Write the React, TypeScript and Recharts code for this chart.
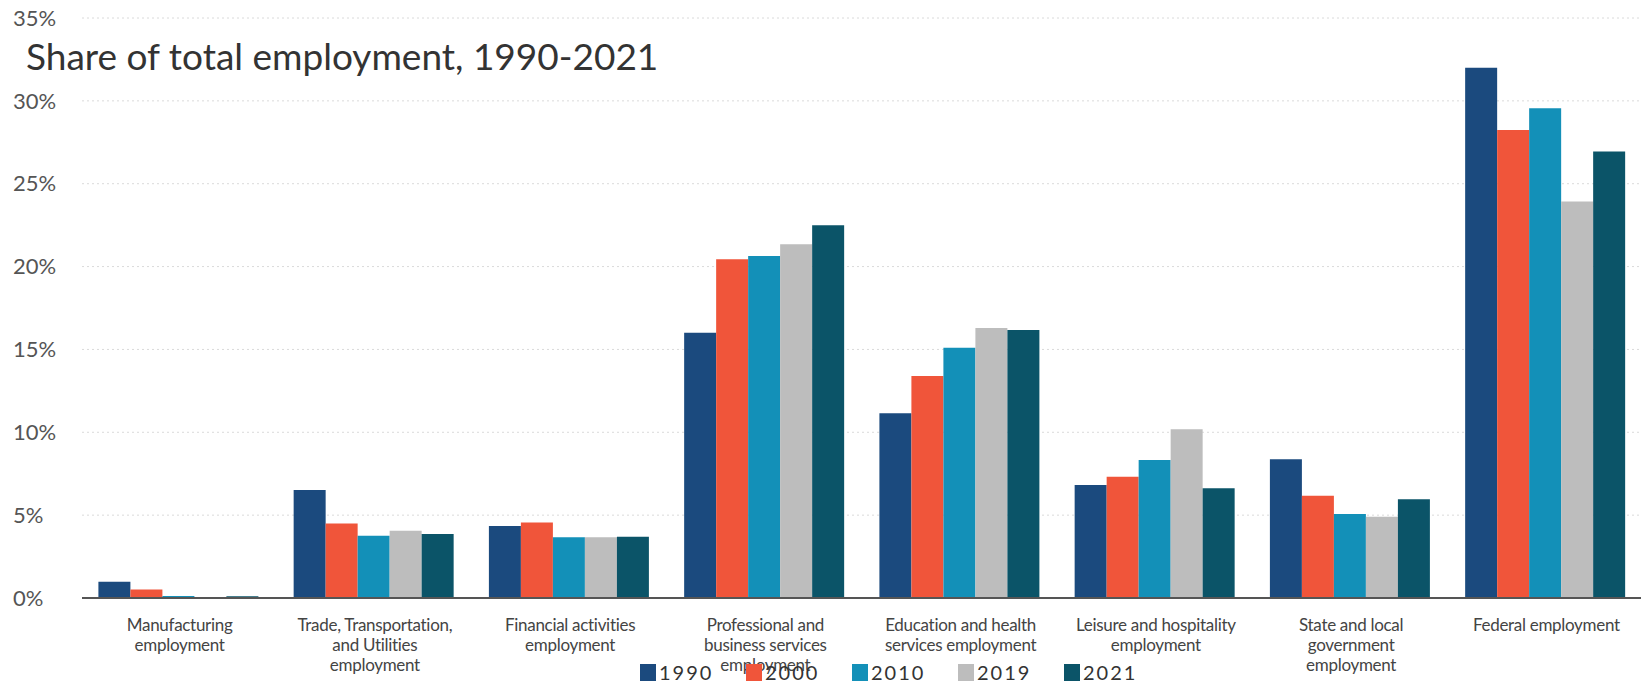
import React from 'react';
import { BarChart, Bar, XAxis, YAxis, CartesianGrid, Legend } from 'recharts';

const categories = [
  'Manufacturing employment',
  'Trade, Transportation, and Utilities employment',
  'Financial activities employment',
  'Professional and business services employment',
  'Education and health services employment',
  'Leisure and hospitality employment',
  'State and local government employment',
  'Federal employment',
];

const categoryLabelLines = [
  ['Manufacturing', 'employment'],
  ['Trade, Transportation,', 'and Utilities', 'employment'],
  ['Financial activities', 'employment'],
  ['Professional and', 'business services', 'employment'],
  ['Education and health', 'services employment'],
  ['Leisure and hospitality', 'employment'],
  ['State and local', 'government', 'employment'],
  ['Federal employment'],
];

const years = ['1990', '2000', '2010', '2019', '2021'];
const values1990 = [0.98, 6.52, 4.35, 16.0, 11.15, 6.82, 8.37, 32.0];
const values2000 = [0.52, 4.5, 4.55, 20.44, 13.4, 7.32, 6.17, 28.24];
const values2010 = [0.12, 3.76, 3.66, 20.64, 15.1, 8.33, 5.07, 29.55];
const values2019 = [0.05, 4.06, 3.66, 21.35, 16.3, 10.18, 4.9, 23.92];
const values2021 = [0.1, 3.86, 3.7, 22.5, 16.17, 6.62, 5.96, 26.94];
const seriesValues = [values1990, values2000, values2010, values2019, values2021];
const colors = ['#1b4a7e', '#f0553a', '#1390b8', '#bdbdbd', '#0b5468'];
const yTicks = [0, 5, 10, 15, 20, 25, 30, 35];

const titleText = 'Share of total employment, 1990-2021';

const data = categories.map((name, i) => {
  const row: Record<string, any> = { name, idx: i };
  years.forEach((y, k) => {
    row[y] = seriesValues[k][i];
  });
  return row;
});

const FONT = 'Lato, "Noto Sans", sans-serif';

const XTick = (props: any) => {
  const { x, y, index } = props;
  const lines = categoryLabelLines[index] || [];
  return (
    <g>
      {lines.map((line, i) => (
        <text
          key={i}
          x={x}
          y={y + 33 + i * 20}
          textAnchor="middle"
          fontFamily={FONT}
          fontSize={17}
          letterSpacing={-0.3}
          fill="#444"
        >
          {line}
        </text>
      ))}
    </g>
  );
};

const YTick = (props: any) => {
  const { y, payload } = props;
  return (
    <text
      x={13}
      y={y}
      dy="0.35em"
      textAnchor="start"
      fontFamily={FONT}
      fontSize={22}
      fill="#555"
    >
      {`${payload.value}%`}
    </text>
  );
};

const LegendContent = () => (
  <div style={{ display: 'flex', flexDirection: 'row', alignItems: 'center' }}>
    {years.map((y, k) => (
      <div key={y} style={{ display: 'flex', alignItems: 'center', width: 106 }}>
        <div style={{ width: 16, height: 17, background: colors[k], marginRight: 3 }} />
        <span style={{ fontFamily: FONT, fontSize: 20, letterSpacing: 2, color: '#333', lineHeight: '20px' }}>{y}</span>
      </div>
    ))}
  </div>
);

export default function App() {
  return (
    <div style={{ position: 'fixed', left: 0, top: 0, width: 1641, height: 685, overflow: 'hidden', background: '#fff' }}>
      <BarChart
        width={1644}
        height={685}
        data={data}
        margin={{ top: 18, right: 0, bottom: 0, left: 0 }}
        barCategoryGap="8.4%"
        barGap={0}
      >
        <CartesianGrid vertical={false} stroke="#dadada" strokeDasharray="2 3" />
        <XAxis
          dataKey="name"
          height={87}
          interval={0}
          tickLine={false}
          tickSize={0}
          tickMargin={0}
          axisLine={{ stroke: '#555', strokeWidth: 2 }}
          tick={<XTick />}
        />
        <YAxis
          width={82}
          domain={[0, 35]}
          ticks={yTicks}
          axisLine={false}
          tickLine={false}
          tick={<YTick />}
        />
        <Legend
          layout="horizontal"
          verticalAlign="middle"
          align="center"
          content={<LegendContent />}
          wrapperStyle={{ left: 640, top: 662, width: 560, height: 21 }}
        />
        {years.map((y, k) => (
          <Bar key={y} dataKey={y} fill={colors[k]} isAnimationActive={false} />
        ))}
      </BarChart>
      <div
        style={{
          position: 'absolute',
          left: 26,
          top: 37,
          fontFamily: FONT,
          fontSize: 37,
          lineHeight: 1,
          color: '#333',
          whiteSpace: 'nowrap',
        }}
      >
        {titleText}
      </div>
    </div>
  );
}
